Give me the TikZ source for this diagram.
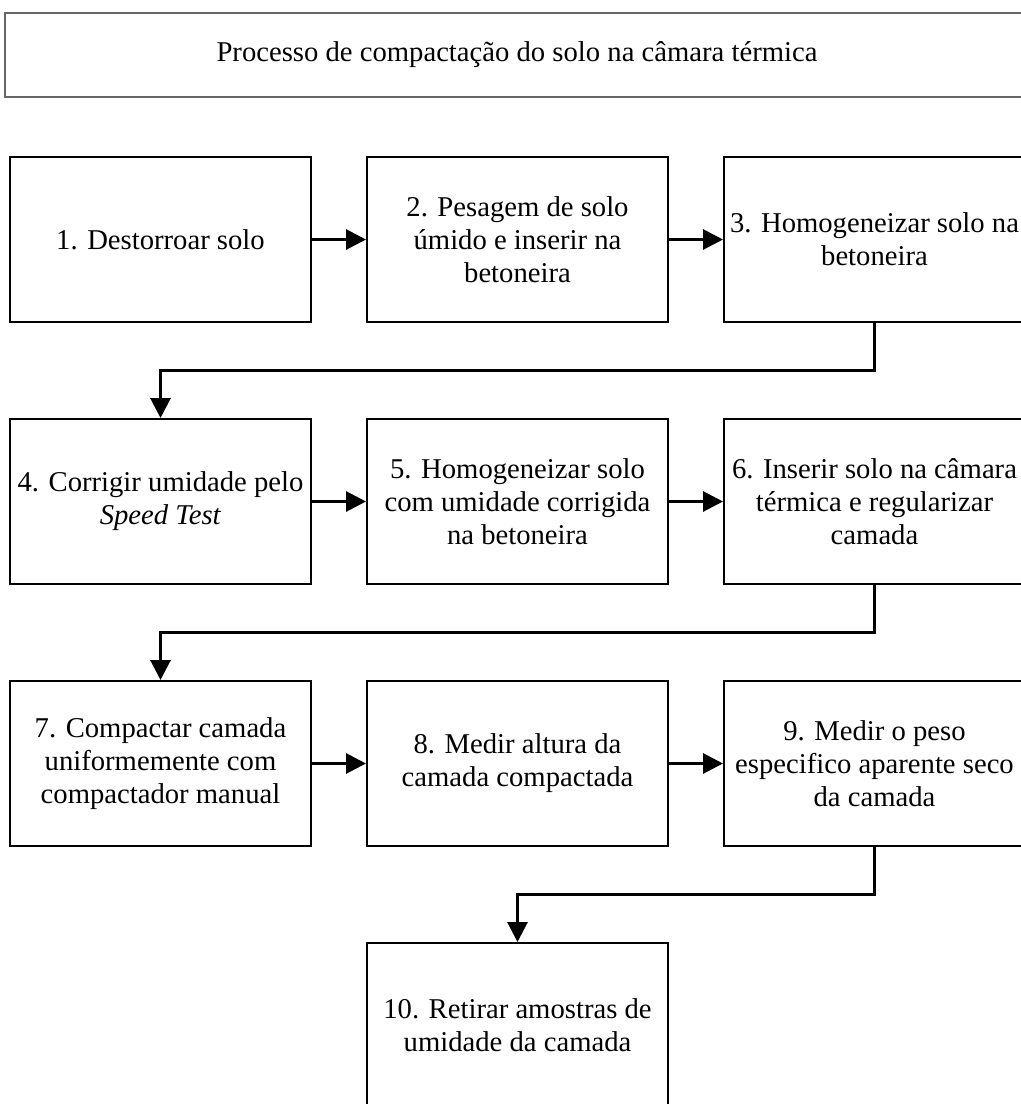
\documentclass[tikz,border=0pt]{standalone}
\usepackage{fontspec}
\setmainfont{Liberation Serif}
\usepackage{tikz}
\usetikzlibrary{
  arrows.meta,
  positioning,
  calc
}
\tikzset{
  etapa/.style={
    draw, line width=1.5pt, minimum width=225.75pt, minimum height=123.75pt,
    inner sep=2pt, align=center, font=\fontsize{21.5}{24.75}\selectfont
  },
  titulo/.style={
    draw=black!60, line width=1.2pt, minimum width=768pt, minimum height=63pt,
    align=center, font=\fontsize{21.5}{24.75}\selectfont
  },
  fluxo/.style={-{Triangle[length=15pt, width=15pt]}, line width=2.25pt}
}
\begin{document}
\begin{tikzpicture}[node distance=71.25pt and 40.5pt]
  \useasboundingbox (0,0) rectangle (765.75pt,-828pt);
  \node[titulo] (titulo) at (387.75pt,-41.25pt) {Processo de compactação do solo na câmara térmica};
  % linha 1
  \node[etapa] (destor) at (120.375pt,-179.625pt) {1. Destorroar solo};
  \node[etapa, right=of destor] (pesagem) {2. Pesagem de solo\\úmido e inserir na\\betoneira};
  \node[etapa, right=of pesagem] (homog) {3. Homogeneizar solo na\\betoneira};
  % linha 2
  \node[etapa, below=of destor] (umidade) {4. Corrigir umidade pelo\\\textit{Speed Test}};
  \node[etapa, right=of umidade] (homogb) {5. Homogeneizar solo\\com umidade corrigida\\na betoneira};
  \node[etapa, right=of homogb] (inserir) {6. Inserir solo na câmara\\térmica e regularizar\\camada};
  % linha 3
  \node[etapa, below=of umidade] (compactar) {7. Compactar camada\\uniformemente com\\compactador manual};
  \node[etapa, right=of compactar] (altura) {8. Medir altura da\\camada compactada};
  \node[etapa, right=of altura] (peso) {9. Medir o peso\\especifico aparente seco\\da camada};
  % linha 4
  \node[etapa, below=of altura] (amostras) {10. Retirar amostras de\\umidade da camada};

  \draw[fluxo] (destor) -- (pesagem);
  \draw[fluxo] (pesagem) -- (homog);
  \draw[fluxo] (homog.south) |- ($(homog.south)!.5!(umidade.north)$) -| (umidade.north);
  \draw[fluxo] (umidade) -- (homogb);
  \draw[fluxo] (homogb) -- (inserir);
  \draw[fluxo] (inserir.south) |- ($(inserir.south)!.5!(compactar.north)$) -| (compactar.north);
  \draw[fluxo] (compactar) -- (altura);
  \draw[fluxo] (altura) -- (peso);
  \draw[fluxo] (peso.south) |- ($(peso.south)!.5!(amostras.north)$) -| (amostras.north);
\end{tikzpicture}
\end{document}
